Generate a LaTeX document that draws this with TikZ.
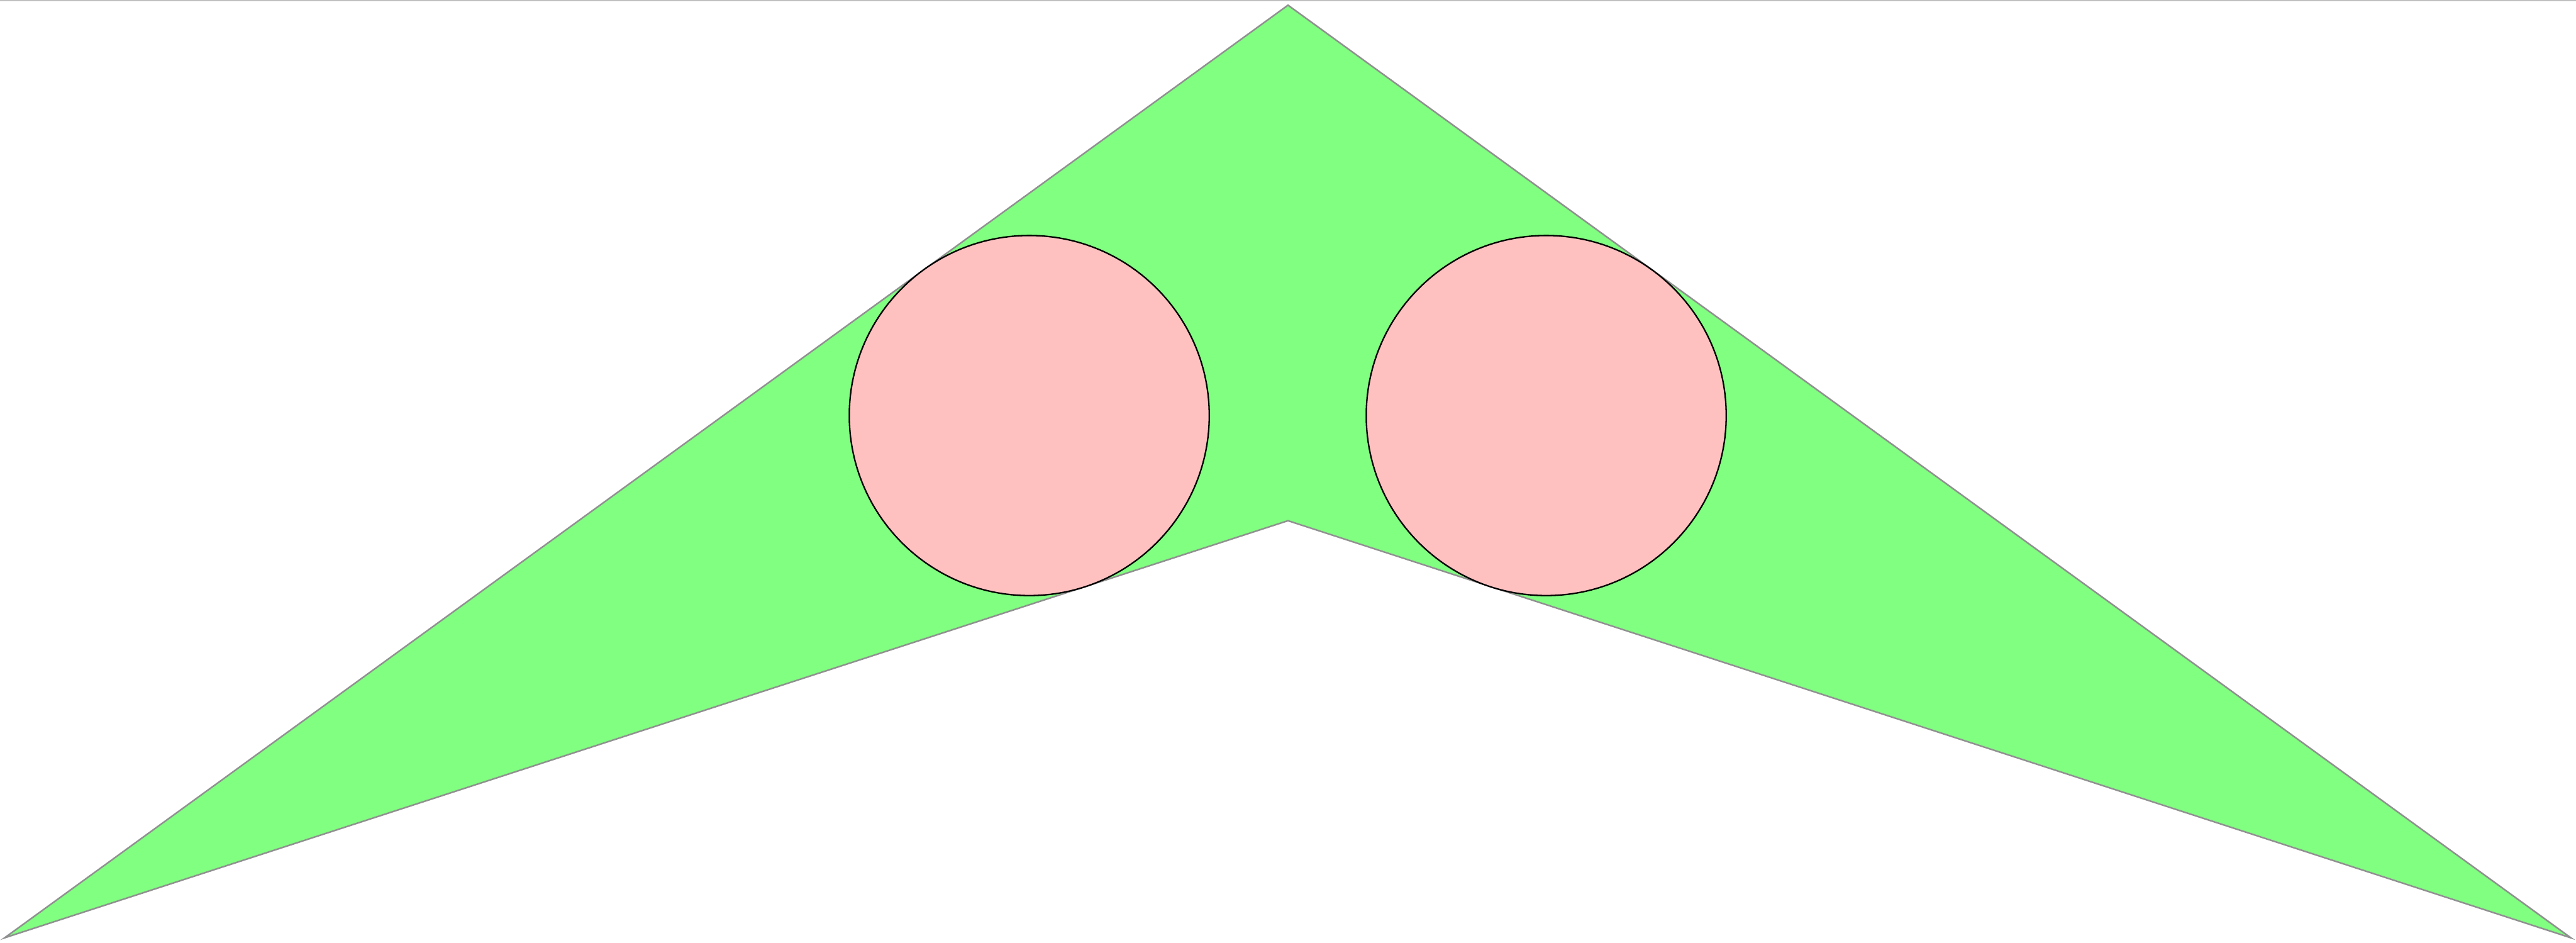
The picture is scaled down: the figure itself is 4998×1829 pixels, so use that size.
\documentclass[tikz,border=0pt]{standalone}
\definecolor{chevgreen}{HTML}{80FF80}
\definecolor{ballpink}{HTML}{FFC0C0}
\definecolor{edgegray}{HTML}{909090}
\definecolor{topgray}{HTML}{C0C0C0}
\tikzset{
  chevron/.style={fill=chevgreen, draw=edgegray, line width=0.85pt, line join=miter},
  ball/.style={circle, fill=ballpink, draw=black, line width=0.8pt, minimum size=6.98cm, inner sep=0pt},
}
\begin{document}
\begin{tikzpicture}[x=0.01cm, y=-0.01cm]
\useasboundingbox (0,0) rectangle (4998,1829);
\fill[white] (0,0) rectangle (4998,1829);
\draw[topgray, line width=0.6pt] (0,1) -- (4998,1);
\coordinate (T) at (2499,10);
\coordinate (BL) at (9,1819);
\coordinate (I) at (2499,1010);
\coordinate (BR) at (4988,1819);
\draw[chevron] (T) -- (BL) -- (I) -- (BR) -- cycle;
\node[ball] (leftball) at (1997,806) {};
\node[ball] (rightball) at (3000,806) {};
\end{tikzpicture}
\end{document}
